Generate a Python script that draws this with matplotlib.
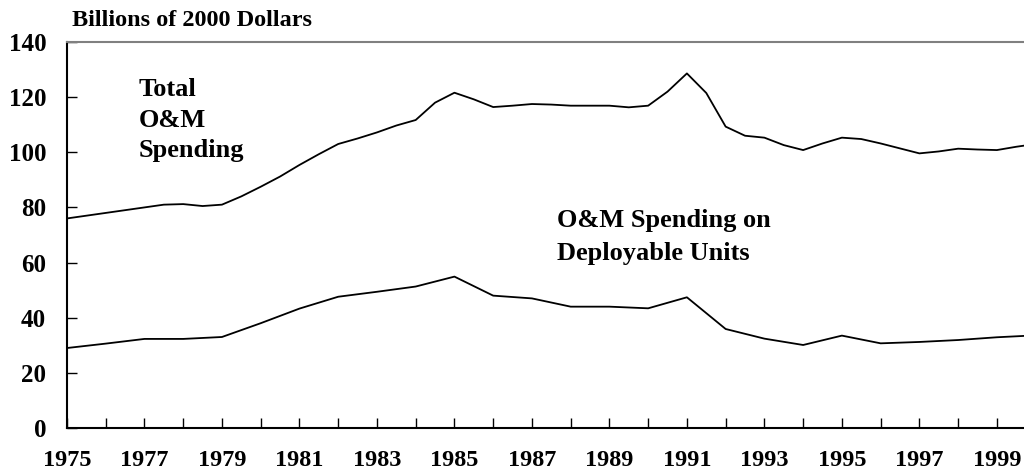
import matplotlib.pyplot as plt
import numpy as np

plt.rcParams['font.family'] = ['Liberation Serif', 'DejaVu Serif']
plt.rcParams['font.weight'] = 'bold'

# total O&M spending, read every half year
total_years = [1975, 1975.5, 1976, 1976.5, 1977, 1977.5, 1978, 1978.5, 1979, 1979.5,
               1980, 1980.5, 1981, 1981.5, 1982, 1982.5, 1983, 1983.5, 1984, 1984.5,
               1985, 1985.5, 1986, 1986.5, 1987, 1987.5, 1988, 1988.5, 1989, 1989.5,
               1990, 1990.5, 1991, 1991.5, 1992, 1992.5, 1993, 1993.5, 1994, 1994.5,
               1995, 1995.5, 1996, 1996.5, 1997, 1997.5, 1998, 1998.5, 1999, 1999.5, 2000]
total_om = [76, 77, 78, 79, 80, 81, 81.2, 80.5, 81, 84,
            87.5, 91.2, 95.4, 99.3, 103, 105, 107.2, 109.7, 111.7, 118,
            121.6, 119.2, 116.4, 116.9, 117.5, 117.3, 116.9, 116.9, 116.9, 116.3,
            116.9, 122, 128.6, 121.5, 109.3, 106, 105.3, 102.6, 100.8, 103.2,
            105.3, 104.8, 103.2, 101.4, 99.6, 100.3, 101.3, 101, 100.8, 102, 103]

# O&M on deployable units, annual
dep_years = list(range(1975, 2001))
dep_om = [29, 30.6, 32.3, 32.3, 33, 38, 43.3, 47.6, 49.4, 51.3,
          54.9, 48, 47, 44, 44, 43.4, 47.4, 35.9, 32.4, 30.1,
          33.5, 30.7, 31.2, 31.9, 32.9, 33.6]

fig = plt.figure(figsize=(10.24, 4.75), dpi=100)
ax = fig.add_axes([0.0654, 0.099, 0.9346, 0.8126])

ax.plot(total_years, total_om, color='black', lw=1.3)
ax.plot(dep_years, dep_om, color='black', lw=1.3)

ax.set_xlim(1975, 1999.7)
ax.set_ylim(0, 140)

years = np.arange(1975, 2000)
ax.set_xticks(years)
ax.set_xticklabels([str(y) if y % 2 == 1 else '' for y in years], fontsize=17.5, fontweight='bold')
ax.set_yticks(np.arange(0, 141, 20))
ax.set_yticklabels([str(v) for v in range(0, 141, 20)], fontsize=18, fontweight='bold')
ax.tick_params(axis='x', direction='in', length=7, width=1, pad=16)
ax.tick_params(axis='y', direction='in', length=7, width=1, pad=15)

ax.spines['right'].set_visible(False)
ax.spines['top'].set_color('#808080')
ax.spines['top'].set_linewidth(1.5)
ax.spines['left'].set_linewidth(1.5)
ax.spines['bottom'].set_linewidth(1.5)

fig.text(72 / 1024, 1 - 21 / 475, 'Billions of 2000 Dollars', fontsize=17.5,
         fontweight='bold', ha='left', va='center')

ax.text(1976.86, 111.7, 'Total\nO&M\nSpending', fontsize=19, fontweight='bold',
        ha='left', va='center', linespacing=1.4)
ax.text(1987.65, 69.3, 'O&M Spending on\nDeployable Units', fontsize=19,
        fontweight='bold', ha='left', va='center', linespacing=1.6)

plt.savefig('out.png', dpi=100)
